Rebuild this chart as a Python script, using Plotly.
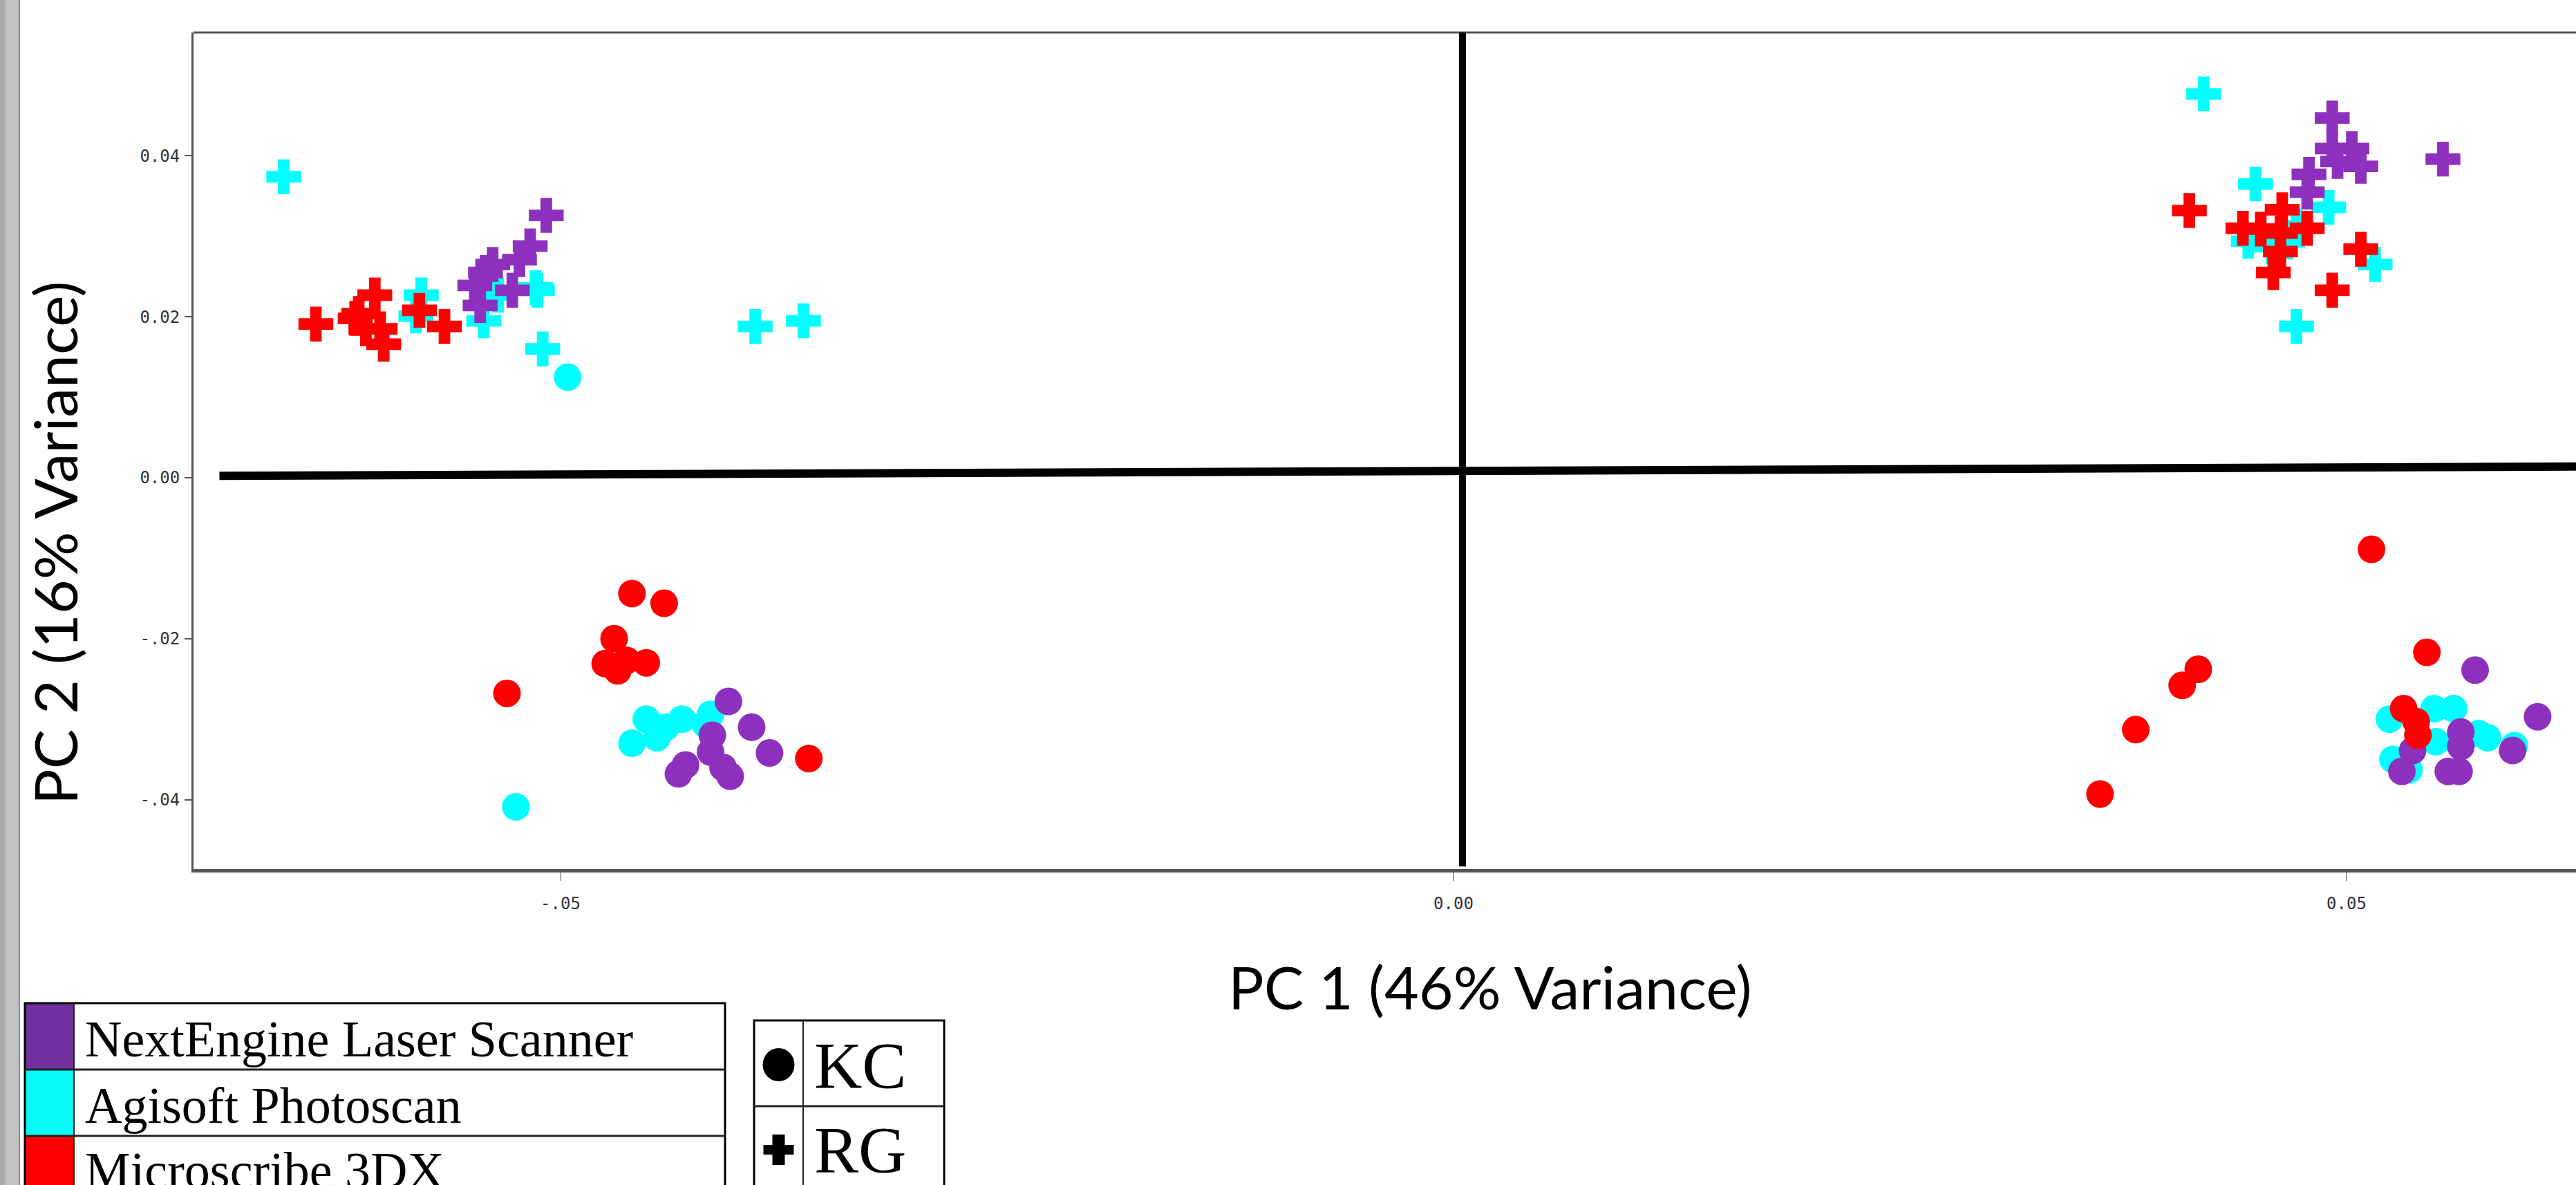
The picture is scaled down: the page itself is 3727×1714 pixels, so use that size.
import plotly.graph_objects as go

# ---------------- data ----------------
SCANNERS = ["NextEngine Laser Scanner", "Agisoft Photoscan", "Microscribe 3DX"]
SPECIMENS = ["KC", "RG"]

X_TICKS = [-0.05, 0.0, 0.05]
X_TICK_TEXT = ["-.05", "0.00", "0.05"]
Y_TICKS = [-0.04, -0.02, 0.0, 0.02, 0.04]
Y_TICK_TEXT = ["-.04", "-.02", "0.00", "0.02", "0.04"]

X_TITLE = "PC 1 (46% Variance)"
Y_TITLE = "PC 2 (16% Variance)"

# NextEngine (purple)
NE_RG_X = [-0.0508, -0.0517, -0.0523, -0.0538, -0.0542, -0.0527, -0.0548, -0.0545,
           0.0492, 0.0492, 0.0503, 0.0495, 0.0508, 0.0479, 0.0478, 0.0554]
NE_RG_Y = [0.0326, 0.0288, 0.0271, 0.0265, 0.0255, 0.0233, 0.0239, 0.0214,
           0.0447, 0.0409, 0.0409, 0.0393, 0.0387, 0.0377, 0.0355, 0.0396]
NE_KC_X = [-0.0406, -0.0393, -0.0383, -0.0430, -0.0434, -0.0415, -0.0416, -0.0405, -0.0409,
           0.0572, 0.0607, 0.0564, 0.0557, 0.0563, 0.0564, 0.0593, 0.0531, 0.0537]
NE_KC_Y = [-0.0278, -0.0310, -0.0342, -0.0357, -0.0368, -0.0320, -0.0341, -0.0371, -0.0360,
           -0.0239, -0.0297, -0.0316, -0.0365, -0.0365, -0.0334, -0.0339, -0.0365, -0.0339]

# Agisoft (cyan)
AG_RG_X = [-0.0655, -0.0578, -0.0581, -0.0543, -0.0514, -0.0513, -0.0535, -0.0510, -0.0391, -0.0364,
           0.0420, 0.0449, 0.0490, 0.0516, 0.0472, 0.0445, 0.0458, 0.0472, 0.0467]
AG_RG_Y = [0.0374, 0.0227, 0.0201, 0.0195, 0.0236, 0.0233, 0.0227, 0.0160, 0.0188, 0.0195,
           0.0477, 0.0365, 0.0336, 0.0265, 0.0188, 0.0294, 0.0287, 0.0313, 0.0293]
AG_KC_X = [-0.0496, -0.0525, -0.0452, -0.0432, -0.0460, -0.0446, -0.0441, -0.0416, -0.0419,
           0.0524, 0.0549, 0.0560, 0.0550, 0.0579, 0.0574, 0.0594, 0.0526, 0.0535]
AG_KC_Y = [0.0125, -0.0409, -0.0300, -0.0300, -0.0330, -0.0323, -0.0310, -0.0294, -0.0306,
           -0.0300, -0.0287, -0.0287, -0.0328, -0.0323, -0.0318, -0.0333, -0.0350, -0.0363]

# Microscribe (red)
MS_RG_X = [-0.0637, -0.0604, -0.0613, -0.0615, -0.0609, -0.0601, -0.0599, -0.0579, -0.0565,
           0.0412, 0.0464, 0.0442, 0.0452, 0.0478, 0.0463, 0.0459, 0.0463, 0.0492, 0.0508]
MS_RG_Y = [0.0191, 0.0227, 0.0204, 0.0198, 0.0185, 0.0185, 0.0166, 0.0208, 0.0188,
           0.0332, 0.0333, 0.0310, 0.0309, 0.0310, 0.0281, 0.0255, 0.0304, 0.0233, 0.0284]
MS_KC_X = [-0.0460, -0.0442, -0.0470, -0.0475, -0.0468, -0.0463, -0.0452, -0.0530, -0.0361,
           0.0514, 0.0545, 0.0417, 0.0408, 0.0382, 0.0362, 0.0532, 0.0539, 0.0540]
MS_KC_Y = [-0.0144, -0.0156, -0.0200, -0.0231, -0.0240, -0.0227, -0.0230, -0.0268, -0.0349,
           -0.0089, -0.0217, -0.0238, -0.0258, -0.0313, -0.0393, -0.0287, -0.0303, -0.0320]

# reference (cross-hair) lines drawn on the chart
H_LINE_X = [-0.0691, 0.0700]
H_LINE_Y = [0.00023, 0.00146]
V_LINE_X = [0.0005, 0.0005]
V_LINE_Y = [0.0560, -0.0483]

# ---------------- styling ----------------
W, H = 3727, 1714
PLOT_L, PLOT_R, PLOT_T, PLOT_B = 280, 3727, 47, 1257
X_RANGE = [-0.07055, 0.06285]
Y_RANGE = [-0.04863, 0.05533]

PURPLE = "#8E30BE"
CYAN = "#00FFFF"
RED = "#FF0000"
SWATCH = ["#7030A0", "#0AF8F8", "#FF0000"]


def px_x(p):
    return (p - PLOT_L) / (PLOT_R - PLOT_L)


def px_y(p):
    return (PLOT_B - p) / (PLOT_B - PLOT_T)


fig = go.Figure()

series = [
    (AG_KC_X, AG_KC_Y, CYAN, "circle"),
    (AG_RG_X, AG_RG_Y, CYAN, "cross"),
    (NE_KC_X, NE_KC_Y, PURPLE, "circle"),
    (NE_RG_X, NE_RG_Y, PURPLE, "cross"),
    (MS_KC_X, MS_KC_Y, RED, "circle"),
    (MS_RG_X, MS_RG_Y, RED, "cross"),
]
for xs, ys, col, sym in series:
    fig.add_trace(go.Scatter(
        x=xs, y=ys, mode="markers", showlegend=False, hoverinfo="skip",
        marker=dict(color=col, symbol=sym, size=40 if sym == "circle" else 42,
                    line=dict(width=0)),
    ))

shapes = []
# left gray window strip
shapes.append(dict(type="rect", xref="paper", yref="paper", x0=px_x(0), x1=px_x(8),
                   y0=px_y(H + 5), y1=px_y(-5), fillcolor="#A9A9A9", line=dict(width=0), layer="above"))
shapes.append(dict(type="rect", xref="paper", yref="paper", x0=px_x(8), x1=px_x(27),
                   y0=px_y(H + 5), y1=px_y(-5), fillcolor="#C2C2C2", line=dict(width=0), layer="above"))
shapes.append(dict(type="rect", xref="paper", yref="paper", x0=px_x(27), x1=px_x(29),
                   y0=px_y(H + 5), y1=px_y(-5), fillcolor="#8C8C8C", line=dict(width=0), layer="above"))
# top frame line
shapes.append(dict(type="line", xref="paper", yref="paper", x0=0, x1=1, y0=1, y1=1,
                   line=dict(color="#555555", width=3)))
# cross-hair lines
shapes.append(dict(type="line", xref="x", yref="y", x0=H_LINE_X[0], x1=H_LINE_X[1],
                   y0=H_LINE_Y[0], y1=H_LINE_Y[1], line=dict(color="black", width=12)))
shapes.append(dict(type="line", xref="x", yref="y", x0=V_LINE_X[0], x1=V_LINE_X[1],
                   y0=V_LINE_Y[0], y1=V_LINE_Y[1], line=dict(color="black", width=10)))

# legend table 1 (scanners)
T1_L, T1_SW, T1_R = 36, 107, 1049
ROW_EDGES = [1451, 1547, 1643, 1739]
for i, c in enumerate(SWATCH):
    shapes.append(dict(type="rect", xref="paper", yref="paper", x0=px_x(T1_L), x1=px_x(T1_SW),
                       y0=px_y(ROW_EDGES[i + 1]), y1=px_y(ROW_EDGES[i]),
                       fillcolor=c, line=dict(width=0)))
shapes.append(dict(type="rect", xref="paper", yref="paper", x0=px_x(T1_L), x1=px_x(T1_R),
                   y0=px_y(ROW_EDGES[-1]), y1=px_y(ROW_EDGES[0]), line=dict(color="black", width=3)))
for r in ROW_EDGES[1:-1]:
    shapes.append(dict(type="line", xref="paper", yref="paper", x0=px_x(T1_L), x1=px_x(T1_R),
                       y0=px_y(r), y1=px_y(r), line=dict(color="#222", width=3)))
shapes.append(dict(type="line", xref="paper", yref="paper", x0=px_x(T1_SW), x1=px_x(T1_SW),
                   y0=px_y(ROW_EDGES[-1]), y1=px_y(ROW_EDGES[0]), line=dict(color="#222", width=2)))

# legend table 2 (specimens)
T2_L, T2_D, T2_R = 1091, 1162, 1366
ROW2 = [1476, 1600, 1724]
shapes.append(dict(type="rect", xref="paper", yref="paper", x0=px_x(T2_L), x1=px_x(T2_R),
                   y0=px_y(ROW2[-1]), y1=px_y(ROW2[0]), line=dict(color="black", width=3)))
shapes.append(dict(type="line", xref="paper", yref="paper", x0=px_x(T2_L), x1=px_x(T2_R),
                   y0=px_y(ROW2[1]), y1=px_y(ROW2[1]), line=dict(color="#222", width=3)))
shapes.append(dict(type="line", xref="paper", yref="paper", x0=px_x(T2_D), x1=px_x(T2_D),
                   y0=px_y(ROW2[-1]), y1=px_y(ROW2[0]), line=dict(color="#222", width=2)))
cx = (T2_L + T2_D) / 2
cy1 = 1540
shapes.append(dict(type="circle", xref="paper", yref="paper", x0=px_x(cx - 23), x1=px_x(cx + 23),
                   y0=px_y(cy1 + 24), y1=px_y(cy1 - 24), fillcolor="black", line=dict(width=0)))
cy2 = 1663
shapes.append(dict(type="rect", xref="paper", yref="paper", x0=px_x(cx - 9), x1=px_x(cx + 9),
                   y0=px_y(cy2 + 22), y1=px_y(cy2 - 22), fillcolor="black", line=dict(width=0)))
shapes.append(dict(type="rect", xref="paper", yref="paper", x0=px_x(cx - 22), x1=px_x(cx + 22),
                   y0=px_y(cy2 + 7), y1=px_y(cy2 - 7), fillcolor="black", line=dict(width=0)))

annotations = []
annotations.append(dict(text=X_TITLE, xref="paper", yref="paper", x=px_x(2156), y=px_y(1426),
                        xanchor="center", yanchor="middle", showarrow=False,
                        font=dict(family="Lato", size=86, color="black")))
annotations.append(dict(text=Y_TITLE, xref="paper", yref="paper", x=px_x(78), y=px_y(785),
                        xanchor="center", yanchor="middle", showarrow=False, textangle=-90,
                        font=dict(family="Lato", size=86, color="black")))
row_centers = [1499, 1595, 1689]
for name, yc in zip(SCANNERS, row_centers):
    annotations.append(dict(text=name, xref="paper", yref="paper", x=px_x(121), y=px_y(yc + 4),
                            xanchor="left", yanchor="middle", showarrow=False,
                            font=dict(family="Liberation Serif", size=74, color="black")))
for name, yc in zip(SPECIMENS, [1538, 1660]):
    annotations.append(dict(text=name, xref="paper", yref="paper", x=px_x(1176), y=px_y(yc + 3),
                            xanchor="left", yanchor="middle", showarrow=False, height=90,
                            font=dict(family="Liberation Serif", size=96, color="black")))

fig.update_layout(
    width=W, height=H,
    margin=dict(l=PLOT_L, r=W - PLOT_R, t=PLOT_T, b=H - PLOT_B, pad=0),
    paper_bgcolor="white", plot_bgcolor="white",
    shapes=shapes, annotations=annotations,
    xaxis=dict(range=X_RANGE, showgrid=False, zeroline=False,
               showline=True, linecolor="#555555", linewidth=5,
               tickmode="array", tickvals=X_TICKS, ticktext=X_TICK_TEXT,
               ticks="outside", ticklen=12, tickwidth=1, tickcolor="#444",
               ticklabelstandoff=12,
               tickfont=dict(family="DejaVu Sans Mono", size=24, color="#333")),
    yaxis=dict(range=Y_RANGE, showgrid=False, zeroline=False,
               showline=True, linecolor="#555555", linewidth=3,
               tickmode="array", tickvals=Y_TICKS, ticktext=Y_TICK_TEXT,
               ticks="outside", ticklen=10, tickwidth=2, tickcolor="#555",
               ticklabelstandoff=2,
               tickfont=dict(family="DejaVu Sans Mono", size=24, color="#333")),
)

# remove the default page margin so the figure sits at the window's top-left corner
fig.write_html("out.html",
               config={"displayModeBar": False},
               post_script="document.body.style.margin='0';document.body.style.overflow='hidden';")
